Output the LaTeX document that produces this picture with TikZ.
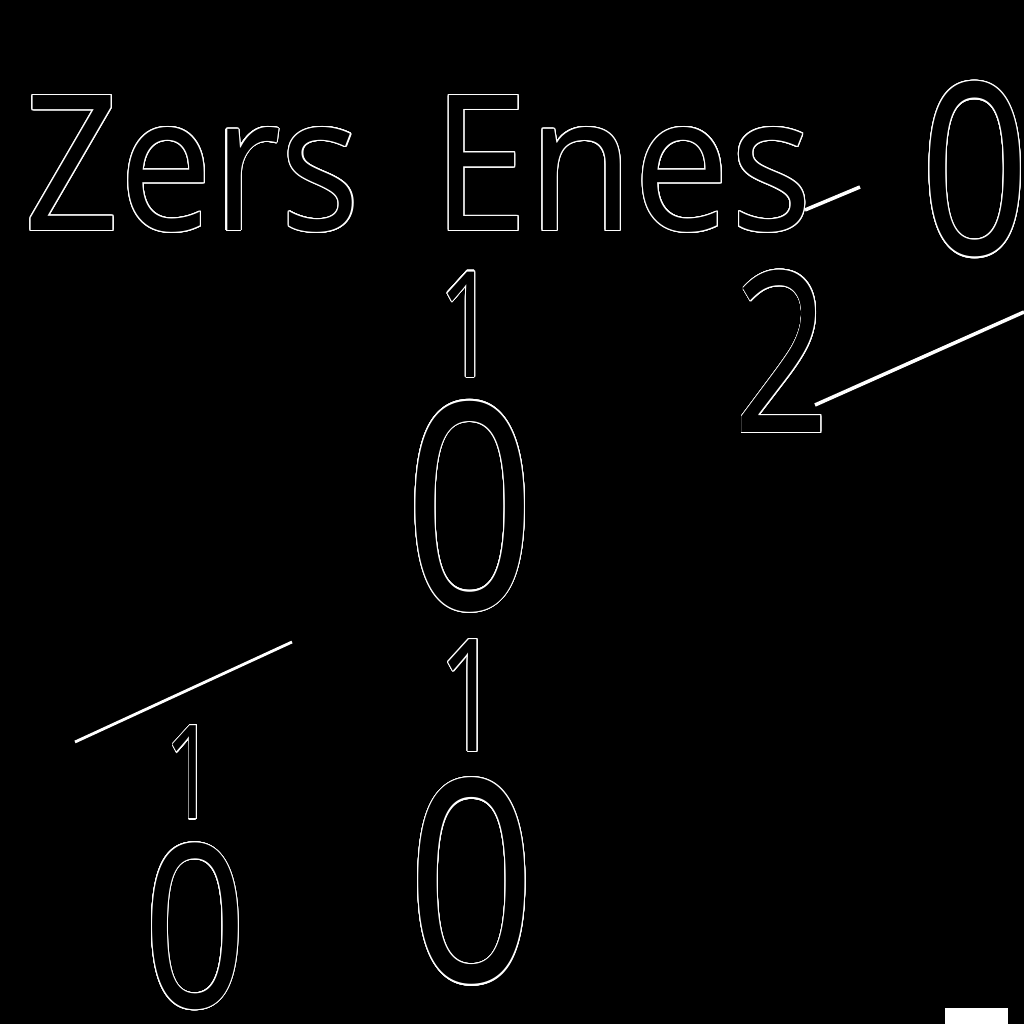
\documentclass[tikz,border=0pt]{standalone}
\usepackage{fontspec, graphicx, xcolor}
\usepackage[copies]{contour}
\setmainfont{Open Sans}
\contourlength{0.35pt}
\contournumber{24}
\definecolor{ink}{RGB}{255,255,255}
\newcommand{\outl}[2][0.8]{\scalebox{#1}[1]{\contour{ink}{#2}}}
\tikzset{glyph/.style={inner sep=0pt, text=black}}

\begin{document}
\begin{tikzpicture}

% Define coordinates.

	%frame
	\coordinate (origin) at (0,0);
	\coordinate (corner) at (10.24,10.24);

	%stroke ends
	\coordinate (tailA) at (8.05,8.14);
	\coordinate (headA) at (8.60,8.37);
	\coordinate (tailB) at (8.15,6.19);
	\coordinate (headB) at (10.24,7.12);
	\coordinate (tailC) at (0.75,2.82);
	\coordinate (headC) at (2.92,3.82);

% Background.

	\useasboundingbox (origin) rectangle (corner);
	\fill[black] (origin) rectangle (corner);
	\fill[ink] (9.45,0) rectangle (10.08,0.16);

% Draw words.

	\node[glyph, font=\fontsize{53.8}{60}\selectfont] (zers) at (1.925,8.595) {\outl[0.88]{Zers}};
	\node[glyph, font=\fontsize{53.8}{60}\selectfont] (enes) at (6.225,8.595) {\outl[0.91]{Enes}};
	\node[glyph, font=\fontsize{68}{78}\selectfont] (zeroTop) at (9.75,8.54) {\outl{0}};

% Draw digits.

	\node[glyph, font=\fontsize{42}{48}\selectfont] (oneE) at (4.68,6.99) {\outl[0.7]{1}};
	\node[glyph, font=\fontsize{63.8}{70}\selectfont] (two) at (7.82,6.72) {\outl[0.75]{2}};
	\node[glyph, font=\fontsize{81.7}{90}\selectfont] (zeroMid) at (4.70,5.17) {\outl{0}};
	\node[glyph, font=\fontsize{44.6}{50}\selectfont] (oneMid) at (4.70,3.28) {\outl[0.7]{1}};
	\node[glyph, font=\fontsize{80}{90}\selectfont] (zeroLow) at (4.72,1.42) {\outl{0}};
	\node[glyph, font=\fontsize{37}{42}\selectfont] (oneLeft) at (1.91,2.51) {\outl[0.7]{1}};
	\node[glyph, font=\fontsize{64.6}{70}\selectfont] (zeroLeft) at (1.95,0.97) {\outl{0}};

% Draw strokes.

	\draw[ink, line width=1pt] (tailA) -- (headA);
	\draw[ink, line width=1pt] (tailB) -- (headB);
	\draw[ink, line width=0.8pt] (tailC) -- (headC);

\end{tikzpicture}
\end{document}
